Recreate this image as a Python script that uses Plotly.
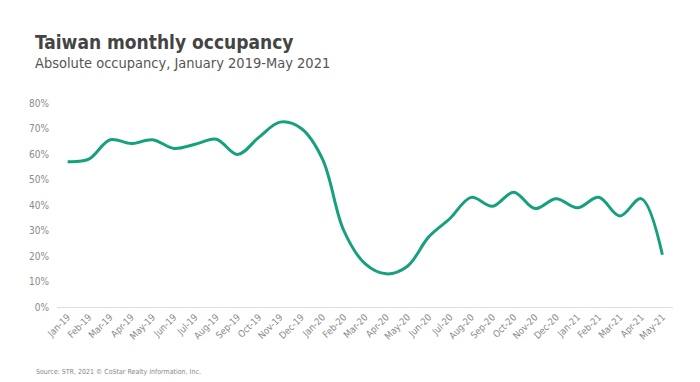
import plotly.graph_objects as go

months = ["Jan-19","Feb-19","Mar-19","Apr-19","May-19","Jun-19","Jul-19","Aug-19","Sep-19","Oct-19",
          "Nov-19","Dec-19","Jan-20","Feb-20","Mar-20","Apr-20","May-20","Jun-20","Jul-20","Aug-20",
          "Sep-20","Oct-20","Nov-20","Dec-20","Jan-21","Feb-21","Mar-21","Apr-21","May-21"]
occupancy = [57.0, 58.0, 65.6, 64.1, 65.6, 62.2, 63.8, 65.8, 59.8, 66.5,
             72.5, 70.0, 58.0, 30.0, 17.0, 13.0, 16.0, 27.5, 34.7, 43.0,
             39.5, 45.0, 38.6, 42.5, 38.9, 43.0, 35.7, 42.5, 20.5]
y_ticks = [0, 10, 20, 30, 40, 50, 60, 70, 80]

FONT = "Liberation Sans Narrow, DejaVu Sans Condensed, sans-serif"

fig = go.Figure()
fig.add_trace(go.Scatter(
    x=months, y=occupancy, mode="lines",
    line=dict(color="#16a07e", width=3, shape="spline", smoothing=1.0),
    hoverinfo="x+y",
))

fig.update_layout(
    width=700, height=382,
    margin=dict(l=57, r=27, t=103, b=75, autoexpand=False),
    paper_bgcolor="white", plot_bgcolor="white",
    showlegend=False,
    font=dict(family=FONT, color="#8a8a8a"),
)
fig.update_xaxes(
    type="category", range=[-0.5, len(months) - 0.5],
    tickangle=-45, tickfont=dict(size=9.5, color="#8a8a8a", family=FONT),
    showgrid=False, showline=True, linecolor="#dddddd", linewidth=1,
    ticks="", zeroline=False, automargin=False,
)
fig.update_yaxes(
    range=[0, 80], tickvals=y_ticks, ticktext=[f"{v}%" for v in y_ticks],
    tickfont=dict(size=10, color="#8a8a8a", family=FONT),
    showgrid=False, zeroline=False, showline=False, ticks="",
    ticklabelstandoff=7, automargin=False,
)

fig.add_annotation(text="<b>Taiwan monthly occupancy</b>", xref="paper", yref="paper",
                   x=0, y=1, xshift=-57 + 33, yshift=103 - 29, xanchor="left", yanchor="top",
                   showarrow=False, font=dict(size=19, color="#444444", family=FONT))
fig.add_annotation(text="Absolute occupancy, January 2019-May 2021", xref="paper", yref="paper",
                   x=0, y=1, xshift=-57 + 33, yshift=103 - 53, xanchor="left", yanchor="top",
                   showarrow=False, font=dict(size=14.5, color="#555555", family=FONT))
fig.add_annotation(text="Source: STR, 2021 © CoStar Realty Information, Inc.", xref="paper", yref="paper",
                   x=0, y=0, xshift=-57 + 34, yshift=-(372 - 307), xanchor="left", yanchor="middle",
                   showarrow=False, font=dict(size=7, color="#888888", family=FONT))

fig.write_html("out.html", config={"displayModeBar": False},
               post_script="document.body.style.margin='0';")
